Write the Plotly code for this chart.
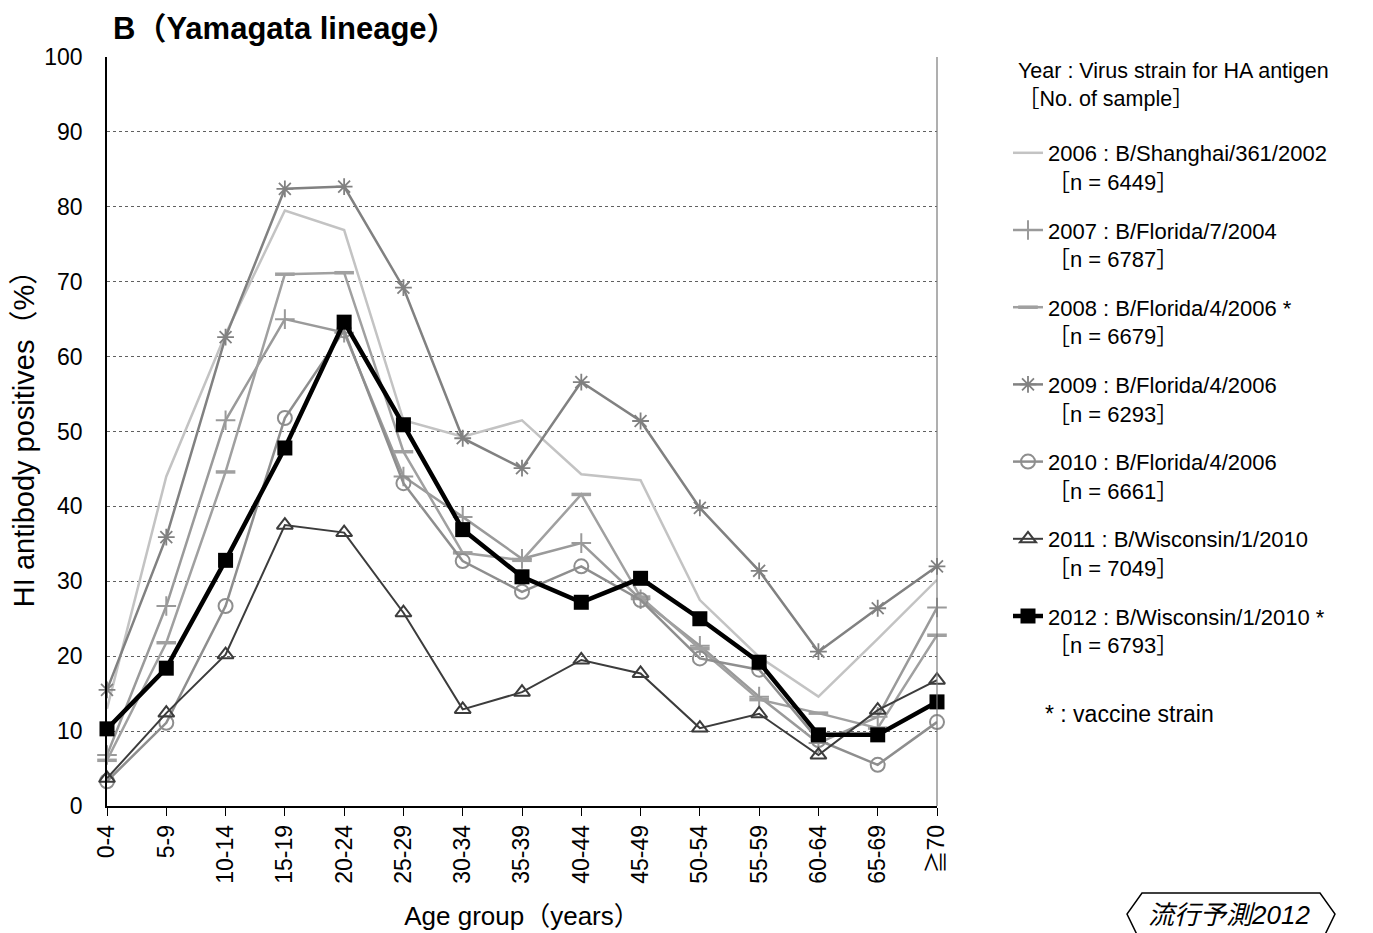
import plotly.graph_objects as go

# ---------------- data ----------------
age_groups = ["0-4", "5-9", "10-14", "15-19", "20-24", "25-29", "30-34", "35-39",
              "40-44", "45-49", "50-54", "55-59", "60-64", "65-69", "≧70"]

y2006 = [13.0, 44.0, 63.0, 79.5, 76.9, 51.5, 49.3, 51.5, 44.3, 43.5, 27.5, 19.9, 14.6, 22.3, 30.2]
y2007 = [6.8, 26.7, 51.5, 65.0, 63.2, 44.0, 38.6, 33.0, 35.1, 27.6, 21.4, 14.6, 8.4, 11.9, 26.5]
y2008 = [6.1, 21.8, 44.6, 71.0, 71.2, 47.3, 33.8, 32.8, 41.6, 27.9, 21.0, 14.2, 12.4, 10.4, 22.8]
y2009 = [15.5, 35.9, 62.6, 82.4, 82.7, 69.2, 49.1, 45.1, 56.6, 51.4, 39.8, 31.4, 20.6, 26.4, 32.0]
y2010 = [3.3, 11.1, 26.7, 51.8, 63.5, 43.1, 32.7, 28.6, 32.0, 27.5, 19.7, 18.2, 8.8, 5.5, 11.2]
y2011 = [3.7, 12.4, 20.2, 37.5, 36.5, 25.8, 12.9, 15.2, 19.5, 17.7, 10.4, 12.3, 6.8, 12.8, 16.8]
y2012 = [10.3, 18.4, 32.8, 47.8, 64.6, 50.9, 36.9, 30.6, 27.2, 30.4, 25.0, 19.2, 9.5, 9.5, 13.9]

series_names = [
    "2006 : B/Shanghai/361/2002<br>［n = 6449］",
    "2007 : B/Florida/7/2004<br>［n = 6787］",
    "2008 : B/Florida/4/2006 *<br>［n = 6679］",
    "2009 : B/Florida/4/2006<br>［n = 6293］",
    "2010 : B/Florida/4/2006<br>［n = 6661］",
    "2011 : B/Wisconsin/1/2010<br>［n = 7049］",
    "2012 : B/Wisconsin/1/2010 *<br>［n = 6793］",
]
series_values = [y2006, y2007, y2008, y2009, y2010, y2011, y2012]

# ---------------- styles ----------------
styles = [
    dict(color="#c3c3c3", width=2.5, mode="lines", marker=None),
    dict(color="#9a9a9a", width=2.5, mode="lines+markers",
         marker=dict(symbol="cross-thin", size=14, line=dict(width=2, color="#9a9a9a"))),
    dict(color="#a0a0a0", width=2.5, mode="lines+markers",
         marker=dict(symbol="line-ew", size=14, line=dict(width=3.5, color="#a0a0a0"))),
    dict(color="#818181", width=2.5, mode="lines+markers",
         marker=dict(symbol="asterisk", size=14, line=dict(width=1.8, color="#818181"))),
    dict(color="#8e8e8e", width=2.5, mode="lines+markers",
         marker=dict(symbol="circle-open", size=14, line=dict(width=2, color="#8e8e8e"))),
    dict(color="#3c3c3c", width=2, mode="lines+markers",
         marker=dict(symbol="triangle-up-open", size=14, line=dict(width=2, color="#3c3c3c"))),
    dict(color="#000000", width=4.5, mode="lines+markers",
         marker=dict(symbol="square", size=15, color="#000000")),
]

FONT = "Liberation Sans, Arial, Noto Sans CJK JP, sans-serif"

fig = go.Figure()
x_idx = list(range(len(age_groups)))
for i, (name, vals, st) in enumerate(zip(series_names, series_values, styles)):
    kw = dict(x=x_idx, y=vals, name=name, mode=st["mode"],
              line=dict(color=st["color"], width=st["width"]),
              cliponaxis=False, legendgroup=f"g{i}")
    if st["marker"] is not None:
        kw["marker"] = st["marker"]
    fig.add_trace(go.Scatter(**kw))

# page has an 8px body margin; positions below are given in screen pixels
OFF = 8
W, H = 1373 - OFF, 933 - OFF
L, R, T, B = 107, 937, 57, 806  # plot area in screen pixels


def px_x(p):
    return (p - L) / (R - L)


def px_y(p):
    return (B - p) / (B - T)


fig.update_layout(
    width=W, height=H,
    margin=dict(l=L - OFF, r=1373 - R, t=T - OFF, b=933 - B),
    paper_bgcolor="white", plot_bgcolor="white",
    font=dict(family=FONT, size=23, color="#000000"),
    showlegend=True,
    legend=dict(
        x=px_x(1008), y=px_y(132), xanchor="left", yanchor="top",
        font=dict(family=FONT, size=22, color="#000000"),
        tracegroupgap=17, valign="top", bgcolor="rgba(0,0,0,0)",
        itemclick=False, itemdoubleclick=False,
    ),
    xaxis=dict(
        range=[0, 14], tickmode="array", tickvals=x_idx, ticktext=age_groups,
        tickangle=-90, ticks="outside", ticklen=8, tickcolor="#000000",
        showline=True, linecolor="#000000", linewidth=1.5,
        showgrid=False, zeroline=False, automargin=False,
        tickfont=dict(family=FONT, size=23),
        title=dict(text="Age group（years）", font=dict(family=FONT, size=26), standoff=24),
    ),
    yaxis=dict(
        range=[0, 100], dtick=10, ticks="", showline=True, linecolor="#000000", linewidth=1.5,
        showgrid=True, gridcolor="#606060", gridwidth=1, griddash="dot",
        zeroline=False, ticklabelstandoff=18, automargin=False,
        tickfont=dict(family=FONT, size=23),
        title=dict(text="HI antibody positives（%）", font=dict(family=FONT, size=29), standoff=2),
    ),
)

# right border of the plot area
fig.add_shape(type="line", xref="paper", yref="paper", x0=1, x1=1, y0=0, y1=1,
              line=dict(color="#7a7a7a", width=1.2))

# title
fig.add_annotation(text="<b>B（Yamagata lineage）</b>", xref="paper", yref="paper",
                   x=px_x(111), y=px_y(29), xanchor="left", yanchor="middle",
                   showarrow=False, font=dict(family=FONT, size=31, color="#000000"))

# legend header
fig.add_annotation(text="Year : Virus strain for HA antigen<br>［No. of sample］",
                   xref="paper", yref="paper", x=px_x(1016), y=px_y(85),
                   xanchor="left", yanchor="middle", align="left", showarrow=False,
                   font=dict(family=FONT, size=21.5, color="#000000"))

# vaccine note
fig.add_annotation(text="* : vaccine strain", xref="paper", yref="paper",
                   x=px_x(1043), y=px_y(714), xanchor="left", yanchor="middle",
                   showarrow=False, font=dict(family=FONT, size=23, color="#000000"))

# logo
fig.add_shape(type="path", xref="paper", yref="paper",
              path=(f"M {px_x(1142)},{px_y(945)} L {px_x(1127)},{px_y(914)} "
                    f"L {px_x(1142)},{px_y(893)} L {px_x(1320)},{px_y(893)} "
                    f"L {px_x(1335)},{px_y(914)} L {px_x(1320)},{px_y(945)}"),
              line=dict(color="#000000", width=1.5))
fig.add_annotation(text="<i>流行予測2012</i>", xref="paper", yref="paper",
                   x=px_x(1229), y=px_y(915), xanchor="center", yanchor="middle",
                   showarrow=False, font=dict(family=FONT, size=26, color="#000000"))

fig.write_html("out.html")
